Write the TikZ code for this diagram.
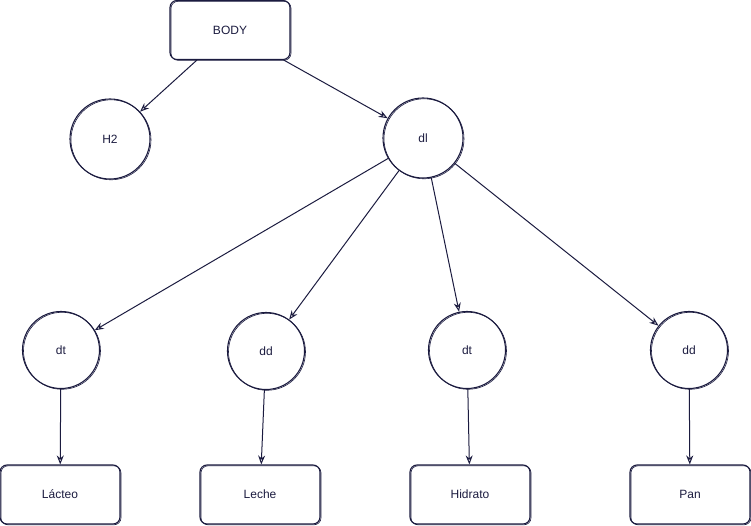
\documentclass[tikz,border=0pt]{standalone}
\usepackage{fontspec}
\setmainfont{Liberation Sans}
\usetikzlibrary{arrows.meta}
\definecolor{ink}{HTML}{1B1B3F}
\begin{document}
\begin{tikzpicture}[x=1pt,y=-1pt,
  every node/.style={font=\fontsize{12}{14}\selectfont, text=ink},
  sketch/.style={draw=ink, line width=1.1pt,
    postaction={draw=ink, line width=0.6pt, transform canvas={shift={(1pt,-0.8pt)}}}},
  boxnode/.style={sketch, rounded corners=7pt, minimum width=120pt, minimum height=59pt, inner sep=0pt},
  circnode/.style={sketch, circle, inner sep=0pt},
  link/.style={draw=ink, line width=1pt, -{Stealth[open, length=9pt, width=7pt]}}
]
\useasboundingbox (0,0) rectangle (751,526);
\node[boxnode] (body) at (230,30) {BODY};
\node[circnode, minimum size=80pt] (h2) at (110,139) {H2};
\node[circnode, minimum size=80pt] (dl) at (423,138) {dl};
\node[circnode, minimum size=77pt] (dt1) at (61,350) {dt};
\node[circnode, minimum size=77pt] (dd1) at (266,351) {dd};
\node[circnode, minimum size=77pt] (dt2) at (467,350) {dt};
\node[circnode, minimum size=77pt] (dd2) at (689,350) {dd};
\node[boxnode] (lacteo) at (60,494.5) {Lácteo};
\node[boxnode] (leche) at (260,494.5) {Leche};
\node[boxnode] (hidrato) at (470,494.5) {Hidrato};
\node[boxnode] (pan) at (690,494.5) {Pan};
\draw[link] (body) -- (h2);
\draw[link] (body) -- (dl);
\draw[link] (dl) -- (dt1);
\draw[link] (dl) -- (dd1);
\draw[link] (dl) -- (dt2);
\draw[link] (dl) -- (dd2);
\draw[link] (dt1) -- (lacteo);
\draw[link] (dd1) -- (leche);
\draw[link] (dt2) -- (hidrato);
\draw[link] (dd2) -- (pan);
\end{tikzpicture}
\end{document}
